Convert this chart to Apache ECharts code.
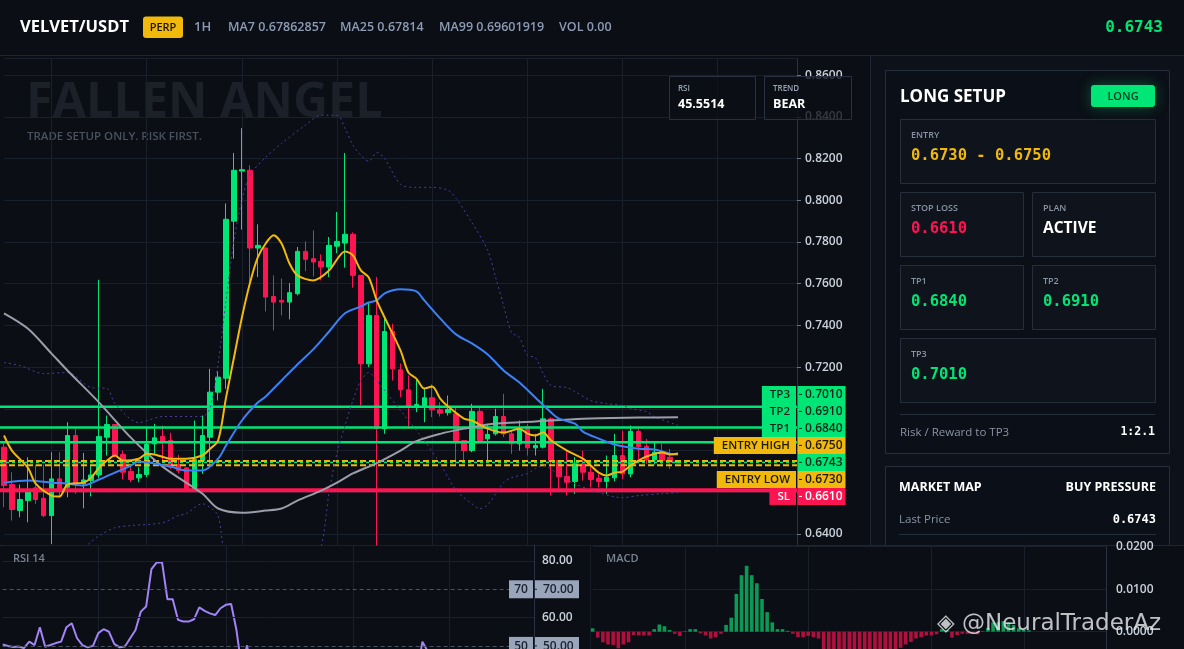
<!DOCTYPE html>
<html>
<head>
<meta charset="utf-8">
<title>VELVET/USDT</title>
<script src="https://cdn.jsdelivr.net/npm/echarts@6.0.0/dist/echarts.min.js"></script>
<style>
html,body{margin:0;padding:0;background:#0b0e15;overflow:hidden;}
#chart{width:1184px;height:649px;}
</style>
</head>
<body>
<div id="chart"></div>
<script>
// ================= DATA =================
const categories = Array.from({length: 101}, (_, i) => 'H' + i);

// [open, close, low, high]
const candles = [
[0.6816,0.6632,0.6528,0.6840],[0.6637,0.6517,0.6464,0.6696],[0.6512,0.6565,0.6480,0.6637],[0.6560,0.6613,0.6456,0.6768],
[0.6621,0.6565,0.6544,0.6733],[0.6571,0.6488,0.6480,0.6733],[0.6488,0.6664,0.6352,0.6792],[0.6664,0.6608,0.6576,0.6792],
[0.6624,0.6872,0.6576,0.6936],[0.6872,0.6640,0.6592,0.6904],[0.6640,0.6659,0.6523,0.6789],[0.6656,0.6683,0.6580,0.6728],
[0.6683,0.6867,0.6667,0.7619],[0.6864,0.6925,0.6776,0.6968],[0.6925,0.6776,0.6768,0.6925],[0.6781,0.6696,0.6661,0.6800],
[0.6700,0.6661,0.6648,0.6724],[0.6669,0.6685,0.6648,0.6720],[0.6685,0.6829,0.6672,0.6909],[0.6832,0.6861,0.6784,0.6928],
[0.6868,0.6840,0.6752,0.6920],[0.6848,0.6720,0.6712,0.6885],[0.6733,0.6704,0.6691,0.6779],[0.6717,0.6608,0.6604,0.6720],
[0.6608,0.6757,0.6604,0.6944],[0.6752,0.6872,0.6688,0.6968],[0.6864,0.7080,0.6736,0.7192],[0.7080,0.7152,0.7040,0.7180],
[0.7147,0.7909,0.7096,0.7985],[0.7900,0.8144,0.7720,0.8227],[0.8140,0.8147,0.7859,0.8346],[0.8144,0.7771,0.7608,0.8168],
[0.7771,0.7784,0.7632,0.7885],[0.7771,0.7536,0.7467,0.7775],[0.7539,0.7512,0.7376,0.7640],[0.7520,0.7512,0.7448,0.7625],
[0.7512,0.7557,0.7429,0.7603],[0.7552,0.7755,0.7544,0.7776],[0.7755,0.7717,0.7660,0.7803],[0.7720,0.7704,0.7635,0.7856],
[0.7707,0.7680,0.7616,0.7741],[0.7680,0.7784,0.7632,0.7824],[0.7780,0.7803,0.7747,0.7944],[0.7795,0.7837,0.7677,0.8227],
[0.7837,0.7640,0.7581,0.7846],[0.7640,0.7216,0.7016,0.7640],[0.7216,0.7448,0.7200,0.7512],[0.7448,0.6904,0.6344,0.7632],
[0.6904,0.7371,0.6880,0.7440],[0.7371,0.7192,0.7136,0.7408],[0.7187,0.7091,0.7056,0.7217],[0.7091,0.7008,0.6904,0.7160],
[0.7011,0.7021,0.6984,0.7139],[0.7008,0.7053,0.6936,0.7101],[0.7053,0.6995,0.6960,0.7117],[0.6995,0.6979,0.6963,0.7032],
[0.6982,0.6997,0.6968,0.7064],[0.6976,0.6848,0.6728,0.7008],[0.6848,0.6800,0.6744,0.6850],[0.6800,0.6988,0.6792,0.7024],
[0.6988,0.6848,0.6840,0.7008],[0.6856,0.6877,0.6752,0.6928],[0.6880,0.6963,0.6872,0.7000],[0.6963,0.6880,0.6864,0.7072],
[0.6880,0.6832,0.6784,0.6896],[0.6832,0.6904,0.6800,0.6944],[0.6915,0.6813,0.6776,0.6928],[0.6813,0.6824,0.6776,0.6880],
[0.6816,0.6952,0.6810,0.7096],[0.6952,0.6752,0.6584,0.6960],[0.6752,0.6675,0.6616,0.6755],[0.6675,0.6648,0.6584,0.6800],
[0.6652,0.6736,0.6592,0.6768],[0.6736,0.6696,0.6656,0.6800],[0.6696,0.6661,0.6624,0.6744],[0.6667,0.6651,0.6624,0.6688],
[0.6652,0.6672,0.6592,0.6776],[0.6669,0.6776,0.6652,0.6880],[0.6776,0.6688,0.6664,0.6896],[0.6688,0.6892,0.6672,0.6920],
[0.6892,0.6819,0.6760,0.6912],[0.6819,0.6755,0.6736,0.6856],[0.6755,0.6792,0.6733,0.6840],[0.6792,0.6752,0.6723,0.6832],
[0.6768,0.6744,0.6712,0.6808],[0.6741,0.6743,0.6740,0.6746]
];

// moving averages: [candle index, value]
const ma7 = [[0,0.6872],[1,0.6800],[3,0.6718],[4,0.6641],[6,0.6584],[7,0.6579],[8,0.6637],[10,0.6646],[11,0.6670],[12,0.6718],
[13,0.6752],[14,0.6776],[15,0.6752],[17,0.6761],[18,0.6785],[19,0.6781],[21,0.6761],[23,0.6761],[25,0.6776],[26,0.6809],
[27,0.6848],[28,0.7054],[29,0.7246],[30,0.7438],[31,0.7601],[32,0.7726],[33,0.7793],[34,0.7832],[35,0.7793],[36,0.7697],
[37,0.7640],[39,0.7616],[41,0.7664],[43,0.7755],[44,0.7736],[45,0.7664],[46,0.7630],[47,0.7520],[48,0.7438],[50,0.7280],
[51,0.7174],[52,0.7145],[53,0.7097],[54,0.7107],[55,0.7049],[56,0.7011],[58,0.6953],[59,0.6944],[61,0.6905],[63,0.6886],
[65,0.6905],[66,0.6881],[67,0.6872],[68,0.6886],[69,0.6848],[71,0.6800],[73,0.6761],[74,0.6728],[75,0.6694],[76,0.6680],
[77,0.6694],[78,0.6699],[79,0.6728],[80,0.6752],[81,0.6771],[83,0.6790],[84,0.6781],[85,0.6786]];
const ma25 = [[0,0.6646],[3,0.6656],[6,0.6646],[8,0.6641],[10,0.6632],[12,0.6661],[14,0.6694],[16,0.6728],[17,0.6747],[19,0.6737],
[21,0.6723],[23,0.6704],[25,0.6704],[27,0.6761],[28,0.6824],[30,0.6944],[32,0.7030],[33,0.7059],[35,0.7136],[37,0.7213],
[39,0.7285],[41,0.7371],[43,0.7458],[45,0.7491],[46,0.7510],[47,0.7520],[48,0.7554],[50,0.7573],[52,0.7563],[53,0.7520],
[55,0.7434],[57,0.7357],[59,0.7314],[61,0.7261],[63,0.7184],[65,0.7126],[67,0.7054],[69,0.6982],[70,0.6953],[72,0.6929],
[73,0.6891],[75,0.6857],[77,0.6829],[80,0.6809],[82,0.6805],[84,0.6785],[85,0.6781]];
const ma99 = [[0,0.7458],[3,0.7385],[6,0.7265],[8,0.7184],[12,0.7030],[16,0.6862],[20,0.6723],[25,0.6594],[27,0.6522],[30,0.6502],
[33,0.6512],[35,0.6522],[37,0.6560],[40,0.6608],[42,0.6646],[44,0.6690],[47,0.6740],[50,0.6800],[52,0.6845],[55,0.6880],
[58,0.6905],[61,0.6925],[67,0.6939],[73,0.6953],[80,0.6958],[85,0.6960]];
const bbUpper = [[0,0.7222],[2,0.7208],[5,0.7169],[8,0.7174],[11,0.7102],[13,0.7097],[14,0.7025],[17,0.6934],[20,0.6963],[25,0.6963],
[26,0.7006],[27,0.7218],[28,0.7520],[29,0.7808],[30,0.8000],[31,0.8120],[33,0.8206],[35,0.8273],[38,0.8360],[40,0.8408],
[42,0.8408],[43,0.8345],[44,0.8264],[45,0.8216],[46,0.8187],[47,0.8230],[48,0.8201],[50,0.8077],[52,0.8062],[54,0.8062],
[56,0.8048],[57,0.8009],[59,0.7894],[61,0.7760],[62,0.7630],[63,0.7496],[64,0.7366],[65,0.7342],[66,0.7256],[67,0.7246],
[68,0.7169],[69,0.7112],[71,0.7102],[72,0.7083],[74,0.7040],[76,0.7025],[78,0.7016],[79,0.7001],[81,0.6987],[82,0.6963],[85,0.6920]];
const bbLower = [[0,0.6280],[5,0.6250],[9,0.6310],[10,0.6330],[11,0.6363],[12,0.6392],[14,0.6430],[16,0.6440],[20,0.6454],[22,0.6488],
[23,0.6497],[25,0.6545],[26,0.6526],[27,0.6488],[28,0.6272],[30,0.6150],[34,0.6080],[38,0.6150],[40,0.6340],[41,0.6600],
[42,0.6790],[43,0.6920],[44,0.7040],[45,0.7136],[46,0.7174],[47,0.7136],[48,0.7088],[50,0.6992],[53,0.6848],[55,0.6737],
[57,0.6608],[58,0.6574],[59,0.6545],[60,0.6521],[61,0.6540],[63,0.6646],[64,0.6670],[66,0.6689],[67,0.6713],[68,0.6728],
[70,0.6685],[72,0.6641],[75,0.6598],[78,0.6574],[80,0.6584],[83,0.6593],[85,0.6598]];

const rsi = [50.5,50.0,49.6,49.8,49.2,51.5,50.3,56.6,49.7,50.3,51.0,51.5,56.6,58.0,52.7,50.3,49.5,50.0,54.5,55.9,
55.0,50.7,49.5,49.8,52.7,55.6,62.1,63.9,77.1,79.5,79.5,66.5,66.5,59.2,58.6,58.6,59.4,63.6,62.4,61.5,
60.9,63.3,64.5,64.8,55.6,42.0,50.2,38.5,47.5,44.0,42.5,41.0,41.5,43.0,41.8,41.5,42.0,38.5,37.8,44.5,
40.5,41.2,43.5,41.0,39.8,42.0,39.5,40.0,45.0,38.0,36.0,35.5,39.0,38.0,37.2,37.0,38.0,42.5,40.5,51.5,
48.0,45.5,47.2,45.8,45.0,45.5514];

const macd = [0.0008,-0.0014,-0.0025,-0.0030,-0.0031,-0.0039,-0.0030,-0.0025,-0.0008,-0.0009,-0.0009,-0.0009,0.0006,0.0017,0.0013,
0.0004,-0.0005,-0.0010,0.0001,0.0006,0.0006,-0.0004,-0.0009,-0.0016,-0.0013,-0.0005,0.0016,0.0033,0.0089,0.0133,
0.0155,0.0133,0.0114,0.0077,0.0046,0.0022,0.0006,0.0006,0.0002,-0.0005,-0.0013,-0.0013,-0.0010,-0.0013,-0.0016,
-0.0045,-0.0055,-0.0068,-0.0075,-0.0080,-0.0082,-0.0080,-0.0076,-0.0070,-0.0064,-0.0058,-0.0054,-0.0050,-0.0048,-0.0045,
-0.0038,-0.0030,-0.0024,-0.0016,-0.0013,-0.0009,-0.0009,-0.0006,0.0006,0.0004,-0.0014,-0.0008,-0.0005,-0.0005,-0.0005,
-0.0006,0.0001,0.0009,0.0022,0.0022,0.0025,0.0022,0.0016,0.0008,0.0005,0.0003];

const levelNames  = ['TP3','TP2','TP1','ENTRY HIGH','ENTRY LOW','SL'];
const levelValues = [0.7010, 0.6910, 0.6840, 0.6750, 0.6730, 0.6610];
const levelKinds  = ['tp','tp','tp','entry','entry','sl'];
const lastPrice = 0.6743;
const rsiGuides = [70, 50];
const subSplits = [18, 42, 66, 84];

const headerStats = ['1H', 'MA7 0.67862857', 'MA25 0.67814', 'MA99 0.69601919', 'VOL 0.00'];
const trendLabel = 'BEAR';

// ================= STYLE =================
const GREEN = '#00e676', RED = '#ff1452', YELLOW = '#f0b90b';
const BG = '#0b0e15', GRID = '#1a202b', BORDER = '#1f2533', CARD_BORDER = '#262d3b';
const UI = '"Open Sans","Noto Sans",sans-serif';
const MONO = '"DejaVu Sans Mono","Liberation Mono",monospace';
const KIND = {
  tp:    {bg: GREEN,  fg: '#10261a', width: 2.5, dash: null},
  entry: {bg: YELLOW, fg: '#1f1a08', width: 2,   dash: [6, 3]},
  sl:    {bg: RED,    fg: '#ffffff', width: 4,   dash: null},
  last:  {bg: GREEN,  fg: '#10261a', width: 1.5, dash: [3, 3]}
};

function lineSeries(name, data, color, width, dash) {
  return {type: 'line', name, xAxisIndex: 0, yAxisIndex: 0, data, showSymbol: false, smooth: 0.3, z: 4,
    silent: true, lineStyle: {color, width, type: dash || 'solid'}};
}

const gridBase = {outerBoundsMode: 'none', containLabel: false};
const option = {
  animation: false,
  backgroundColor: BG,
  grid: [
    Object.assign({left: 4, top: 58.5, width: 793, height: 486.5}, gridBase),
    Object.assign({left: 2.67, top: 545, width: 531.33, height: 129.2}, gridBase),
    Object.assign({left: 592.6, top: 546.7, width: 513.4, height: 170}, gridBase)
  ],
  xAxis: [0, 1, 2].map(g => ({
    type: 'category', gridIndex: g, data: categories, boundaryGap: false,
    axisLine: {show: false}, axisTick: {show: false}, axisLabel: {show: false},
    splitLine: {show: true, interval: g === 0 ? ((i) => i % 12 === 6) : ((i) => subSplits.indexOf(i) >= 0),
      lineStyle: {color: GRID, width: 1}}
  })),
  yAxis: [
    {type: 'value', gridIndex: 0, position: 'right', min: 0.6347, max: 0.868, minInterval: 0.02, maxInterval: 0.02,
     axisLine: {show: true, lineStyle: {color: '#2a3142'}},
     axisTick: {show: true, length: 4, lineStyle: {color: '#6b7485'}},
     axisLabel: {color: '#c9d0da', fontSize: 12, fontWeight: 600, fontFamily: UI, margin: 8,
       showMinLabel: false, showMaxLabel: false, formatter: v => v.toFixed(4)},
     splitLine: {show: true, lineStyle: {color: GRID}}},
    {type: 'value', gridIndex: 1, position: 'right', min: 40, max: 85.65, interval: 10,
     axisLine: {show: true, lineStyle: {color: '#2a3142'}}, axisTick: {show: false},
     axisLabel: {color: '#c9d0da', fontSize: 12, fontWeight: 600, fontFamily: UI, margin: 8, showMaxLabel: false,
       formatter: v => (v === 80 || v === 60) ? v.toFixed(2) : ''},
     splitLine: {show: false}},
    {type: 'value', gridIndex: 2, position: 'right', min: -0.02, max: 0.02, interval: 0.01,
     axisLine: {show: true, lineStyle: {color: '#2a3142'}}, axisTick: {show: false},
     axisLabel: {color: '#c9d0da', fontSize: 12, fontWeight: 600, fontFamily: UI, margin: 10,
       formatter: v => Math.abs(v) < 1e-9 ? '0.0000' : v.toFixed(4)},
     splitLine: {show: true, lineStyle: {color: GRID}}}
  ],
  series: [
    {type: 'candlestick', name: 'VELVET/USDT', xAxisIndex: 0, yAxisIndex: 0, data: candles, barWidth: 5, clip: false, z: 2,
     itemStyle: {color: GREEN, color0: RED, borderColor: GREEN, borderColor0: RED, borderWidth: 1}},
    lineSeries('BB upper', bbUpper, '#4d3f9c', 1, [2, 3]),
    lineSeries('BB lower', bbLower, '#4d3f9c', 1, [2, 3]),
    lineSeries('MA99', ma99, '#9a9ea8', 2),
    lineSeries('MA25', ma25, '#3b82f6', 2),
    lineSeries('MA7', ma7, YELLOW, 2),
    {type: 'line', name: 'RSI 14', xAxisIndex: 1, yAxisIndex: 1, data: rsi, showSymbol: false, silent: true,
     lineStyle: {color: '#a284f6', width: 2},
     markLine: {silent: true, symbol: 'none', label: {show: false}, animation: false,
       data: [
         {yAxis: 80, lineStyle: {type: 'solid', color: GRID, width: 1}},
         {yAxis: 60, lineStyle: {type: 'solid', color: GRID, width: 1}},
         {yAxis: rsiGuides[0], lineStyle: {type: [4, 3], color: '#4a5263', width: 1}},
         {yAxis: rsiGuides[1], lineStyle: {type: [4, 3], color: '#4a5263', width: 1}}
       ]}},
    {type: 'bar', name: 'MACD', xAxisIndex: 2, yAxisIndex: 2, data: macd, barWidth: 3.6, silent: true,
     itemStyle: {color: p => p.value >= 0 ? '#0b9955' : '#b0103e'}}
  ]
};

const chart = echarts.init(document.getElementById('chart'), null, {renderer: 'canvas', width: 1184, height: 649});
chart.setOption(option);

// ================= OVERLAYS =================
const mctx = document.createElement('canvas').getContext('2d');
function tw(text, font) { mctx.font = font; return mctx.measureText(text).width; }
function T(x, y, text, font, fill, align, z, extra) {
  const st = Object.assign({text, font, fill, align: align || 'left', verticalAlign: 'middle',
    textAlign: align || 'left', textVerticalAlign: 'middle'}, extra || {});
  return {type: 'text', x, y, z: z == null ? 60 : z, silent: true, style: st};
}
function R(x, y, w, h, fill, stroke, z, r, extra) {
  return {type: 'rect', silent: true, z, shape: {x, y, width: w, height: h, r: r || 0},
    style: Object.assign({fill, stroke: stroke || null, lineWidth: stroke ? 1 : 0}, extra || {})};
}
function L(x1, y1, x2, y2, stroke, lw, dash, z) {
  return {type: 'line', silent: true, z, shape: {x1, y1, x2, y2}, style: {stroke, lineWidth: lw, lineDash: dash || null}};
}

const g = [];
// panel backgrounds & borders
g.push(R(870, 56, 314, 489, '#0d1119', null, -9));
g.push(L(870.5, 56, 870.5, 545, BORDER, 1, null, -8));
g.push(L(0, 55.5, 1184, 55.5, BORDER, 1, null, -8));

// header
g.push(T(20, 27, 'VELVET/USDT', 'bold 16.5px ' + UI, '#ffffff', 'left', 60));
g.push(R(143, 16.5, 40, 21.5, YELLOW, null, 59, 3));
g.push(T(163, 27.5, 'PERP', '600 11px ' + UI, '#1a1505', 'center', 60));
const hx = [194, 228, 340, 439, 559];
headerStats.forEach((s, i) => g.push(T(hx[i], 27.5, s, (i === 0 ? '600 13px ' : '600 12.5px ') + UI, '#8d9bb5', 'left', 60)));
g.push(T(1163, 28, lastPrice.toFixed(4), 'bold 16px ' + MONO, GREEN, 'right', 60,
  {shadowBlur: 10, shadowColor: 'rgba(0,230,118,0.55)'}));

// watermark + subtitle
g.push(T(26, 103, 'FALLEN ANGEL', 'bold 48.5px ' + UI, '#1b2029', 'left', -2));
g.push(T(27, 137, 'TRADE SETUP ONLY. RISK FIRST.', '600 11.5px ' + UI, '#4b515d', 'left', -2));

// RSI / TREND boxes
g.push(R(669.5, 76.5, 86, 43, 'rgba(11,14,21,0.78)', '#283041', 40));
g.push(T(678, 89, 'RSI', '600 8px ' + UI, '#9aa3b2', 'left', 41));
g.push(T(678, 104, rsi[rsi.length - 1].toFixed(4), 'bold 12.5px ' + UI, '#ffffff', 'left', 41));
g.push(R(764.5, 76.5, 87, 43, 'rgba(11,14,21,0.78)', '#283041', 40));
g.push(T(773, 89, 'TREND', '600 8px ' + UI, '#9aa3b2', 'left', 41));
g.push(T(773, 104, trendLabel, 'bold 12.5px ' + UI, '#ffffff', 'left', 41));

// level lines + stacked price labels
const yMain = v => chart.convertToPixel({yAxisIndex: 0}, v);
const all = levelNames.map((n, i) => ({name: n, value: levelValues[i], kind: levelKinds[i]}));
all.push({name: '', value: lastPrice, kind: 'last'});
all.sort((a, b) => b.value - a.value);
all.forEach(l => { l.py = yMain(l.value); });
const anchor = all.findIndex(l => l.kind === 'last');
all[anchor].ly = all[anchor].py;
for (let k = anchor - 1; k >= 0; k--) all[k].ly = Math.min(all[k].py, all[k + 1].ly - 17);
for (let k = anchor + 1; k < all.length; k++) all[k].ly = Math.max(all[k].py, all[k - 1].ly + 17);
const nameFont = '600 11.5px ' + UI, valFont = '600 12px ' + UI;
all.forEach(l => {
  const st = KIND[l.kind];
  g.push(L(0, l.py, 797, l.py, st.bg, st.width, st.dash, 3));
  if (l.name) {
    const w = tw(l.name, nameFont) + 14;
    g.push(R(796 - w, l.ly - 8.5, w, 17, st.bg, null, 50));
    g.push(T(790, l.ly + 0.5, l.name, nameFont, st.fg, 'right', 51));
  }
  g.push(R(797.5, l.ly - 8.5, 48, 17, st.bg, null, 50));
  g.push(L(799, l.ly, 802, l.ly, st.fg, 1, null, 51));
  g.push(T(805, l.ly + 0.5, l.value.toFixed(4), valFont, st.fg, 'left', 51));
});

// right panel: LONG SETUP card
const LBL = '600 9px ' + UI, LBLC = '#8a93a3', VAL = 'bold 15.5px ' + MONO;
g.push(R(885.5, 70.5, 284, 383, '#0b0f17', CARD_BORDER, -8));
g.push(T(900, 97, 'LONG SETUP', 'bold 17px ' + UI, '#ffffff', 'left', -7));
g.push(R(1091, 85, 64, 22, GREEN, null, -7, 3, {shadowBlur: 14, shadowColor: 'rgba(0,230,118,0.35)'}));
g.push(T(1123, 96.5, 'LONG', '600 11px ' + UI, '#0b3a22', 'center', -6));
const boxes = [
  [900.5, 119.5, 255, 64, 'ENTRY', levelValues[4].toFixed(4) + ' - ' + levelValues[3].toFixed(4), YELLOW, VAL],
  [900.5, 192.5, 123, 64, 'STOP LOSS', levelValues[5].toFixed(4), RED, VAL],
  [1032.5, 192.5, 123, 64, 'PLAN', 'ACTIVE', '#ffffff', 'bold 15.5px ' + UI],
  [900.5, 265.5, 123, 64, 'TP1', levelValues[2].toFixed(4), GREEN, VAL],
  [1032.5, 265.5, 123, 64, 'TP2', levelValues[1].toFixed(4), GREEN, VAL],
  [900.5, 338.5, 255, 64, 'TP3', levelValues[0].toFixed(4), GREEN, VAL]
];
boxes.forEach(b => {
  g.push(R(b[0], b[1], b[2], b[3], '#0e131c', CARD_BORDER, -8));
  g.push(T(b[0] + 10.5, b[1] + 15.5, b[4], LBL, LBLC, 'left', -7));
  g.push(T(b[0] + 10.5, b[1] + 36, b[5], b[7], b[6], 'left', -7));
});
g.push(L(900, 414.5, 1155, 414.5, CARD_BORDER, 1, null, -7));
g.push(T(900, 432.5, 'Risk / Reward to TP3', '11.5px ' + UI, LBLC, 'left', -7));
g.push(T(1155, 432.5, '1:2.1', 'bold 11.5px ' + MONO, '#ffffff', 'right', -7));

// MARKET MAP card
g.push(R(885.5, 466.5, 284, 130, '#0b0f17', CARD_BORDER, -8));
g.push(T(899, 487, 'MARKET MAP', 'bold 12.5px ' + UI, '#ffffff', 'left', -7));
g.push(T(1156, 487, 'BUY PRESSURE', 'bold 12.5px ' + UI, '#ffffff', 'right', -7));
g.push(T(899, 519.5, 'Last Price', '11.5px ' + UI, LBLC, 'left', -7));
g.push(T(1156, 519.5, lastPrice.toFixed(4), 'bold 12px ' + MONO, '#ffffff', 'right', -7));
g.push(L(899, 534.5, 1156, 534.5, CARD_BORDER, 1, null, -7));

// bottom panels
g.push(R(0, 546, 590, 103, BG, null, -5));
g.push(R(590, 546, 594, 103, BG, null, -5));
g.push(L(0, 545.5, 1184, 545.5, BORDER, 1, null, -4));
g.push(L(590.5, 546, 590.5, 649, '#161b25', 1, null, -4));
g.push(T(13, 559, 'RSI 14', '600 11px ' + UI, '#7b8493', 'left', 40));
g.push(T(606, 559, 'MACD', '600 11px ' + UI, '#7b8493', 'left', 40));
rsiGuides.forEach(v => {
  const y = chart.convertToPixel({yAxisIndex: 1}, v);
  g.push(R(509, y - 9, 24, 18, '#98a5bb', null, 50));
  g.push(T(521, y + 0.5, String(v), '600 12px ' + UI, '#1b2230', 'center', 51));
  g.push(R(535, y - 9, 44, 18, '#98a5bb', null, 50));
  g.push(L(533, y, 537, y, '#1b2230', 1, null, 51));
  g.push(T(543, y + 0.5, v.toFixed(2), '600 12px ' + UI, '#1b2230', 'left', 51));
});
g.push(T(937, 624, '\u25C8 @NeuralTraderAz', '23px "DejaVu Sans",sans-serif', 'rgba(230,232,236,0.82)', 'left', 70));

chart.setOption({graphic: {elements: g}});
</script>
</body>
</html>
